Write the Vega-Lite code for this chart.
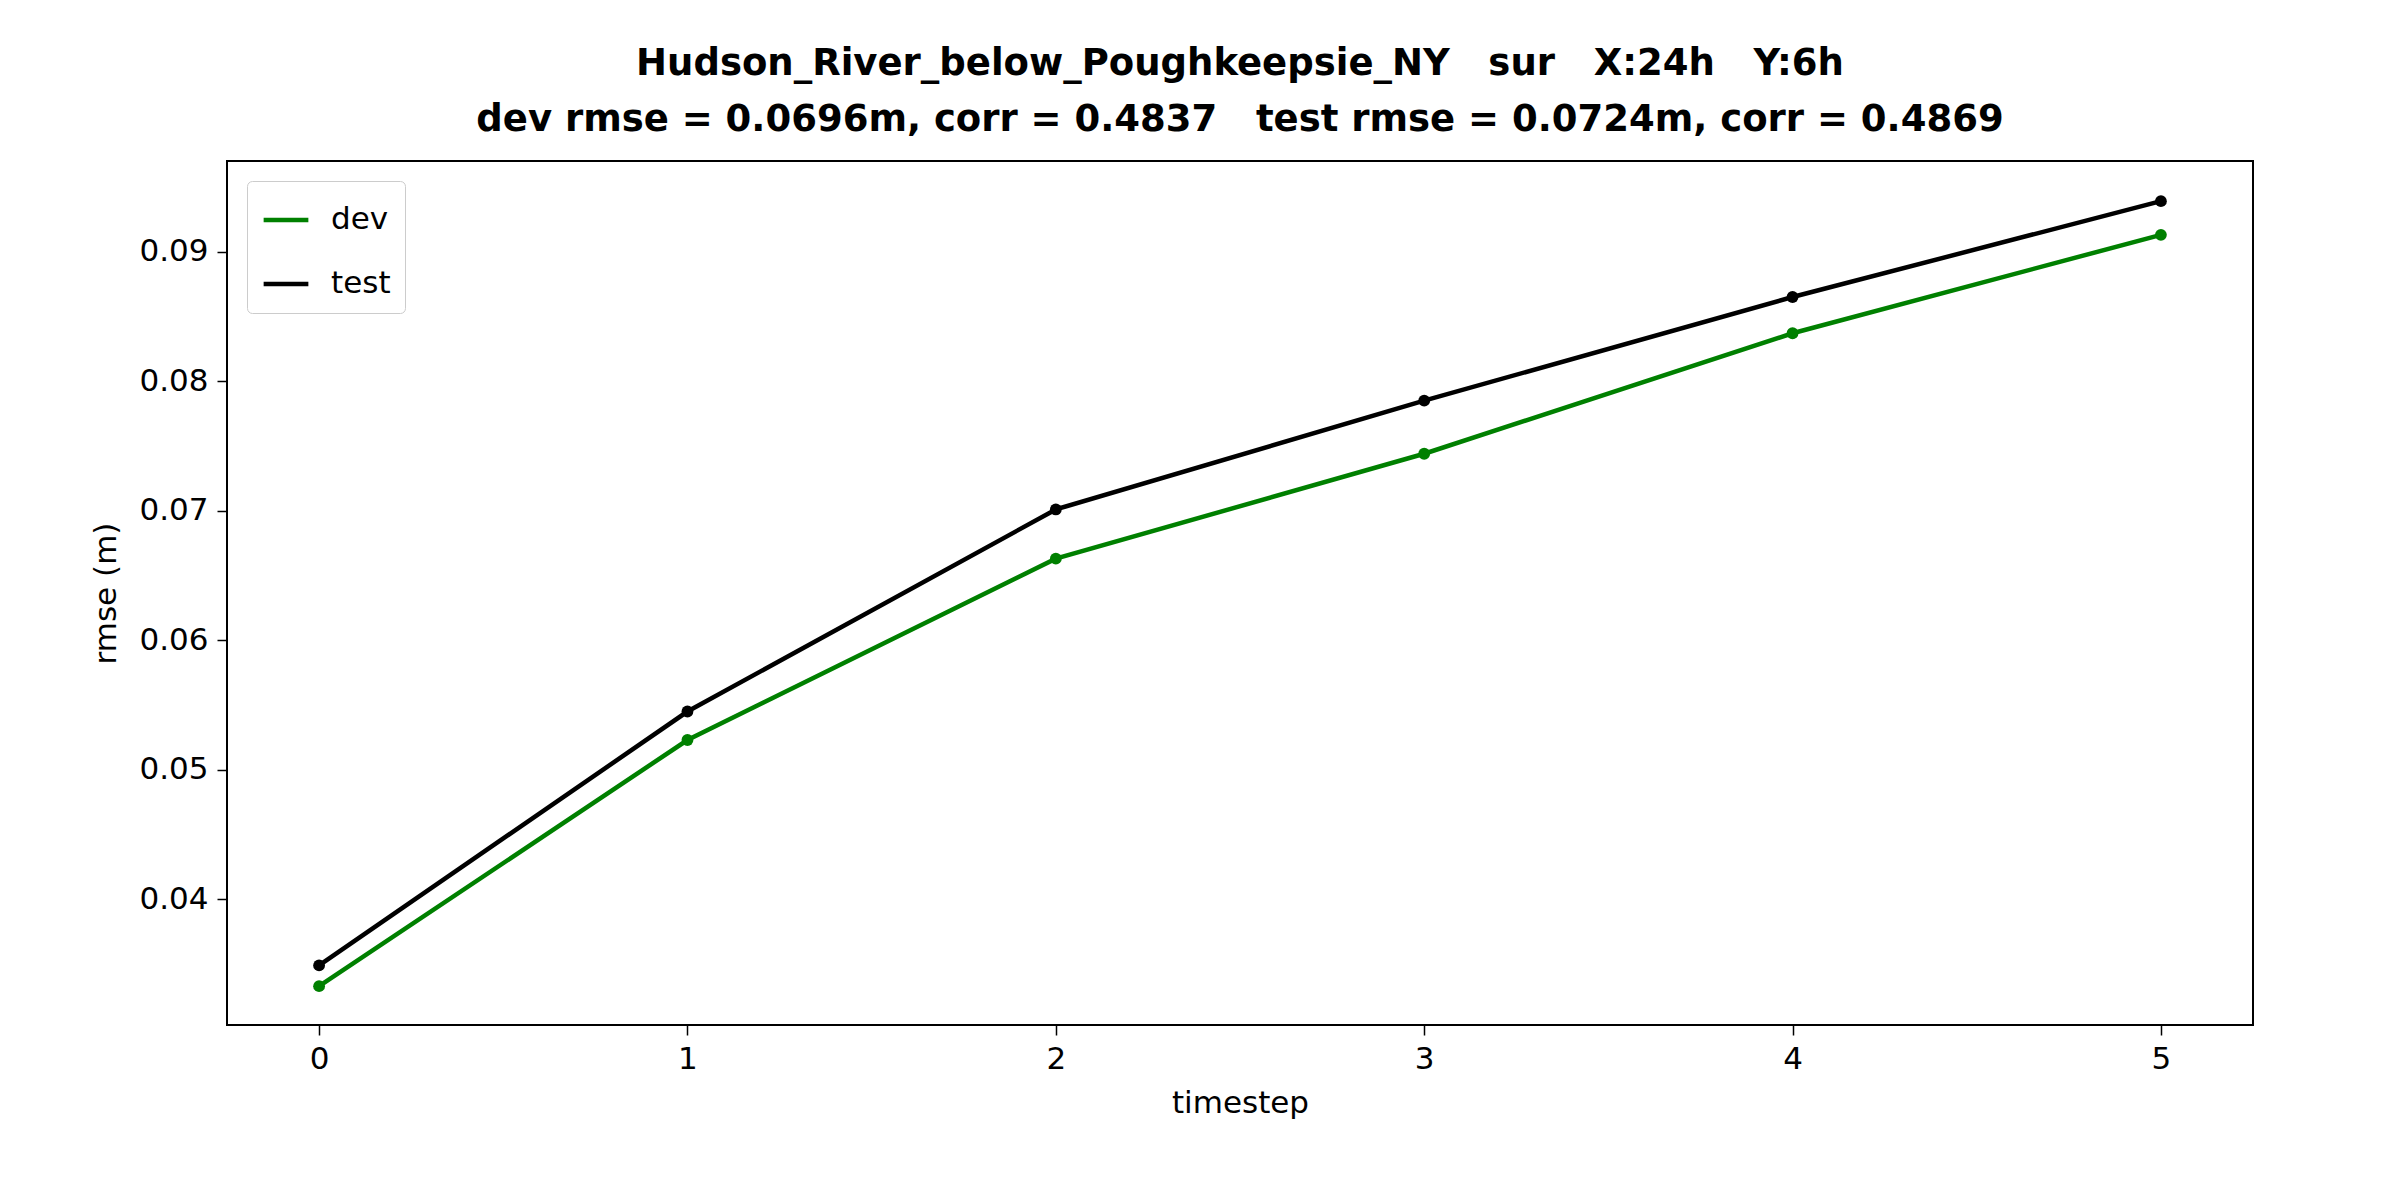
{
  "$schema": "https://vega.github.io/schema/vega-lite/v6.json",
  "autosize": {"type": "none"},
  "padding": {"left": 227, "top": 161, "right": 147, "bottom": 175},
  "width": 2026,
  "height": 864,
  "background": "white",
  "config": {
    "font": "DejaVu Sans",
    "view": {"stroke": "black", "strokeWidth": 2},
    "axis": {
      "grid": false,
      "domain": false,
      "tickColor": "black",
      "tickWidth": 1.5,
      "tickSize": 10,
      "labelFontSize": 31,
      "labelColor": "black",
      "labelPadding": 9,
      "titleFontSize": 31,
      "titleFontWeight": "normal",
      "titleColor": "black"
    }
  },
  "title": {
    "text": ["Hudson_River_below_Poughkeepsie_NY\u00a0\u00a0\u00a0sur\u00a0\u00a0\u00a0X:24h\u00a0\u00a0\u00a0Y:6h", "dev rmse = 0.0696m, corr = 0.4837\u00a0\u00a0\u00a0test rmse = 0.0724m, corr = 0.4869"],
    "fontSize": 37,
    "fontWeight": "bold",
    "lineHeight": 56,
    "anchor": "middle",
    "offset": 22,
    "color": "black"
  },
  "data": {
    "values": [
      {"timestep": 0, "rmse": 0.0333, "set": "dev"},
      {"timestep": 1, "rmse": 0.0523, "set": "dev"},
      {"timestep": 2, "rmse": 0.0663, "set": "dev"},
      {"timestep": 3, "rmse": 0.0744, "set": "dev"},
      {"timestep": 4, "rmse": 0.0837, "set": "dev"},
      {"timestep": 5, "rmse": 0.0913, "set": "dev"},
      {"timestep": 0, "rmse": 0.0349, "set": "test"},
      {"timestep": 1, "rmse": 0.0545, "set": "test"},
      {"timestep": 2, "rmse": 0.0701, "set": "test"},
      {"timestep": 3, "rmse": 0.0785, "set": "test"},
      {"timestep": 4, "rmse": 0.0865, "set": "test"},
      {"timestep": 5, "rmse": 0.0939, "set": "test"}
    ]
  },
  "mark": {"type": "line", "strokeWidth": 4.5, "point": {"size": 140, "filled": true}},
  "encoding": {
    "x": {
      "field": "timestep", "type": "quantitative",
      "scale": {"domain": [-0.25, 5.25], "nice": false, "zero": false},
      "axis": {"values": [0, 1, 2, 3, 4, 5], "title": "timestep", "titlePadding": 14}
    },
    "y": {
      "field": "rmse", "type": "quantitative",
      "scale": {"domain": [0.0303, 0.097], "nice": false, "zero": false},
      "axis": {"values": [0.04, 0.05, 0.06, 0.07, 0.08, 0.09], "format": ".2f", "title": "rmse (m)", "titlePadding": 16}
    },
    "color": {
      "field": "set", "type": "nominal",
      "scale": {"domain": ["dev", "test"], "range": ["#008000", "#000000"]},
      "legend": {
        "title": null,
        "orient": "top-left",
        "offset": 20,
        "labelFontSize": 31,
        "labelColor": "black",
        "labelOffset": 20,
        "symbolType": "stroke",
        "symbolSize": 2000,
        "symbolStrokeWidth": 4.5,
        "strokeColor": "#cccccc",
        "fillColor": "white",
        "padding": 14,
        "cornerRadius": 5,
        "rowPadding": 24
      }
    }
  }
}
